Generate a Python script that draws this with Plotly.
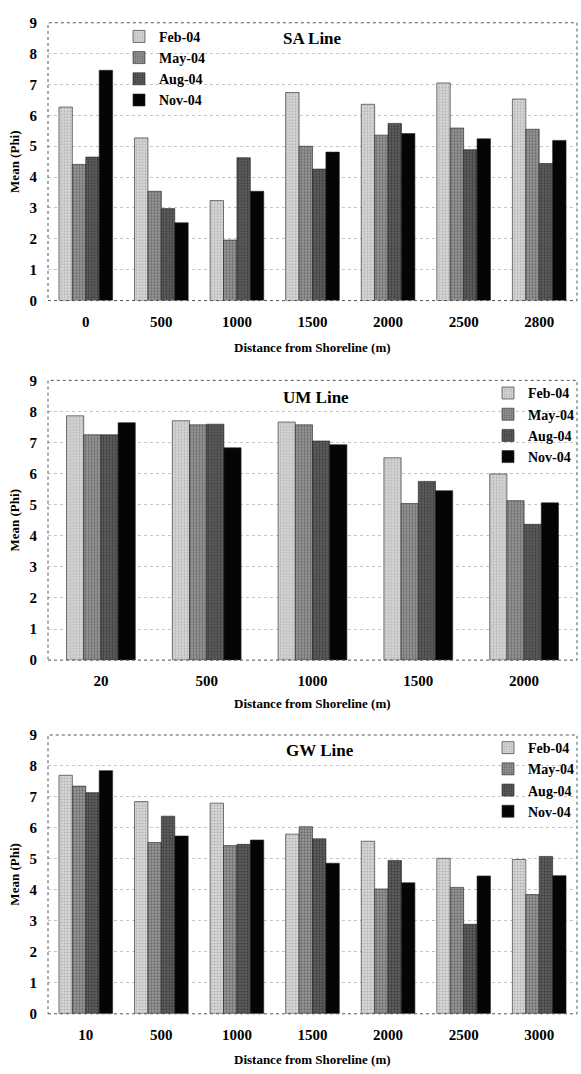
import plotly.graph_objects as go

series = ["Feb-04", "May-04", "Aug-04", "Nov-04"]

sa_cats = ["0", "500", "1000", "1500", "2000", "2500", "2800"]
sa_feb = [6.27, 5.27, 3.24, 6.74, 6.36, 7.05, 6.53]
sa_may = [4.41, 3.54, 1.96, 5.00, 5.36, 5.59, 5.55]
sa_aug = [4.65, 2.98, 4.63, 4.26, 5.74, 4.89, 4.44]
sa_nov = [7.46, 2.52, 3.54, 4.81, 5.41, 5.24, 5.19]

um_cats = ["20", "500", "1000", "1500", "2000"]
um_feb = [7.86, 7.70, 7.66, 6.51, 5.99]
um_may = [7.25, 7.57, 7.57, 5.04, 5.13]
um_aug = [7.25, 7.59, 7.05, 5.75, 4.37]
um_nov = [7.64, 6.83, 6.93, 5.45, 5.06]

gw_cats = ["10", "500", "1000", "1500", "2000", "2500", "3000"]
gw_feb = [7.70, 6.85, 6.80, 5.80, 5.57, 5.02, 4.98]
gw_may = [7.35, 5.53, 5.43, 6.04, 4.03, 4.08, 3.85]
gw_aug = [7.14, 6.38, 5.47, 5.65, 4.95, 2.89, 5.08]
gw_nov = [7.85, 5.74, 5.61, 4.86, 4.23, 4.45, 4.46]

y_ticks = list(range(0, 10))

FONT = "Liberation Serif"
fills = [
    dict(color="#cfcfcf", pattern=dict(shape=".", fgcolor="#8e8e8e", bgcolor="#d8d8d8", size=3, solidity=0.4)),
    dict(color="#868686", pattern=dict(shape=".", fgcolor="#3e3e3e", bgcolor="#9a9a9a", size=3, solidity=0.45)),
    dict(color="#4e4e4e", pattern=dict(shape=".", fgcolor="#1a1a1a", bgcolor="#626262", size=3, solidity=0.45)),
    dict(color="#050505"),
]

panels = [
    ("SA Line", sa_cats, [sa_feb, sa_may, sa_aug, sa_nov], 0.71),
    ("UM Line", um_cats, [um_feb, um_may, um_aug, um_nov], 0.65),
    ("GW Line", gw_cats, [gw_feb, gw_may, gw_aug, gw_nov], 0.71),
]

W, H = 581, 1074
x_dom = [48 / W, 577 / W]
y_doms = [
    [1 - 297 / H, 1 - 15 / H],
    [1 - 662 / H, 1 - 378 / H],
    [1 - 1021 / H, 1 - 738 / H],
]

fig = go.Figure()
layout = dict(
    width=W, height=H,
    margin=dict(l=0, r=0, t=0, b=0),
    paper_bgcolor="white", plot_bgcolor="white",
    barmode="overlay",
    font=dict(family=FONT, size=14, color="black", weight="bold"),
    showlegend=True,
)

legend_pos = [
    dict(x=119 / W, y=1 - 13 / H, xanchor="left", yanchor="top"),
    dict(x=488 / W, y=1 - 375 / H, xanchor="left", yanchor="top"),
    dict(x=488 / W, y=1 - 735 / H, xanchor="left", yanchor="top"),
]
title_pos = [(312, 31), (316, 395), (320, 754)]
xtitle_y = [345, 706, 1067]

annotations = []
shapes = []
for p, (title, cats, vals, gw) in enumerate(panels):
    sfx = "" if p == 0 else str(p + 1)
    bw = gw / 4
    for i, (name, v) in enumerate(zip(series, vals)):
        fig.add_trace(go.Bar(
            x=cats, y=v, name=name,
            xaxis="x" + sfx, yaxis="y" + sfx,
            width=bw, offset=-gw / 2 + i * bw,
            marker=dict(line=dict(color="#222222", width=0.6), **fills[i]),
            legend="legend" + sfx,
        ))
    layout["xaxis" + sfx] = dict(
        domain=x_dom, anchor="y" + sfx, type="category",
        showgrid=False, zeroline=False, showline=False, ticks="",
        tickfont=dict(size=15), ticklabelstandoff=10,
    )
    layout["yaxis" + sfx] = dict(
        domain=y_doms[p], anchor="x" + sfx, range=[0, 9],
        tickvals=y_ticks, showgrid=True, gridcolor="#c4c4c4", griddash="dot", gridwidth=1,
        zeroline=False, showline=False, ticks="", ticklabelstandoff=10,
        tickfont=dict(size=15),
        title=dict(text="Mean (Phi)", font=dict(size=13), standoff=6),
    )
    layout["legend" + sfx] = dict(
        **legend_pos[p], bgcolor="rgba(0,0,0,0)", borderwidth=0,
        font=dict(size=14, family=FONT, weight="bold"),
        itemwidth=30, tracegroupgap=0, traceorder="normal",
    )
    shapes.append(dict(
        type="rect", xref="x" + sfx + " domain", yref="y" + sfx + " domain",
        x0=0, x1=1, y0=0, y1=1, line=dict(color="#555555", width=1, dash="dot"),
        layer="above",
    ))
    annotations.append(dict(
        text=title, xref="paper", yref="paper",
        x=title_pos[p][0] / W, y=1 - title_pos[p][1] / H,
        showarrow=False, font=dict(size=17, family=FONT, weight="bold"),
        xanchor="center", yanchor="middle",
    ))
    annotations.append(dict(
        text="Distance from Shoreline (m)", xref="paper", yref="paper",
        x=312 / W, y=1 - xtitle_y[p] / H,
        showarrow=False, font=dict(size=13, family=FONT, weight="bold"),
        xanchor="center", yanchor="middle",
    ))

layout["annotations"] = annotations
layout["shapes"] = shapes
fig.update_layout(**layout)
fig.write_html(
    "out.html",
    config={"displayModeBar": False},
    post_script="document.body.style.margin='0px';document.body.style.overflow='hidden';",
)
